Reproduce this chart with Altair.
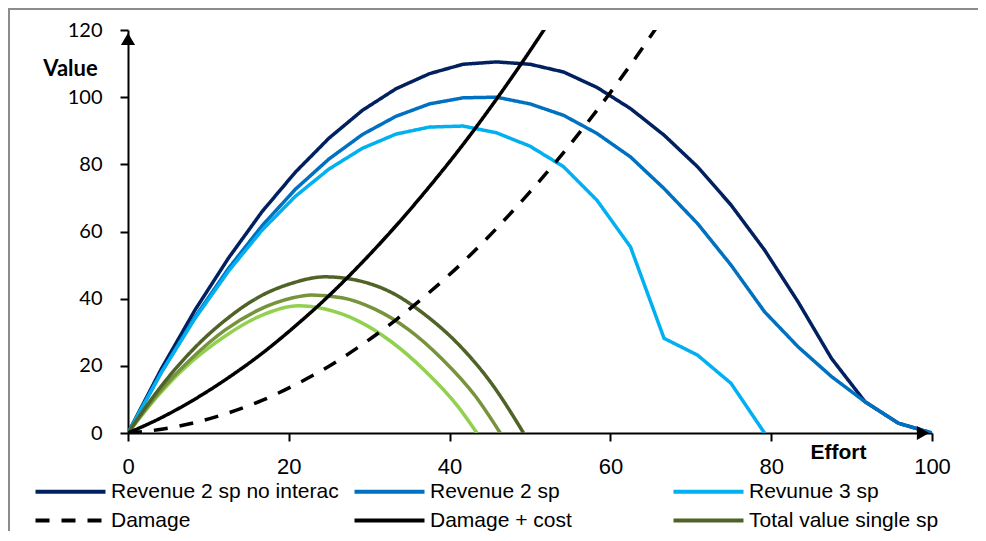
import altair as alt
import pandas as pd

# ---- data ----
effort_grid = [0, 4.17, 8.33, 12.5, 16.67, 20.83, 25, 29.17, 33.33, 37.5, 41.67, 45.83,
               50, 54.17, 58.33, 62.5, 66.67, 70.83, 75, 79.17, 83.33, 87.5, 91.67, 95.83, 100]

rev_no_interac = [0, 19.2, 36.6, 52.1, 65.9, 77.7, 87.8, 96.1, 102.5, 107.0, 109.8, 110.5,
                  109.8, 107.5, 102.9, 96.6, 88.7, 79.3, 67.9, 54.5, 39.1, 22.2, 9.3, 2.9, 0]
rev_2sp = [0, 18.2, 34.5, 49.0, 61.7, 72.6, 81.6, 88.9, 94.3, 98.0, 99.8, 100.0,
           98.0, 94.6, 89.2, 82.2, 72.8, 62.4, 50.0, 36.1, 25.7, 16.8, 9.3, 2.9, 0]
rev_3sp = [0, 18.1, 34.1, 48.2, 60.4, 70.5, 78.6, 84.8, 89.0, 91.1, 91.4, 89.4,
           85.4, 79.3, 69.3, 55.4, 28.2, 23.2, 14.8, 0]
damage = [0, 1.1, 3.1, 6.0, 9.7, 14.4, 19.9, 26.4, 33.7, 41.9, 50.9, 60.9, 71.8,
          83.5, 96.1, 109.6, 124.0]
damage_cost = [0, 4.6, 10.1, 16.5, 23.7, 31.9, 40.9, 50.9, 61.7, 73.4, 85.9, 99.4,
               113.8, 129.0]

g1_effort = [0, 3.77, 7.9, 12.1, 16.2, 20.4, 24.5, 28.6, 32.8, 36.9, 41.1, 45.2, 49.2]
g1_value = [0, 12.8, 24.4, 33.6, 40.4, 44.6, 46.5, 45.4, 41.8, 35.3, 26.4, 14.8, 0]
g2_effort = [0, 3.77, 7.9, 12.1, 16.2, 20.4, 22.8, 26.6, 30.7, 34.9, 39.0, 43.2, 46.3]
g2_value = [0, 11.8, 22.2, 30.7, 36.6, 40.2, 41.1, 40.3, 36.9, 30.8, 22.2, 11.0, 0]
g3_effort = [0, 3.77, 7.9, 12.1, 16.2, 21.2, 24.5, 28.6, 32.8, 36.9, 41.1, 43.4]
g3_value = [0, 11.2, 21.2, 28.9, 34.6, 37.9, 36.9, 33.4, 27.1, 18.6, 7.7, 0]

series_names = ["Revenue 2 sp no interac", "Revenue 2 sp", "Revunue 3 sp",
                "Damage", "Damage + cost", "Total value single sp"]
series_colors = ["#002060", "#0070C0", "#00B0F0", "#000000", "#000000", "#4F6228"]
series_dashes = [[1, 0], [1, 0], [1, 0], [14, 12], [1, 0], [1, 0]]

x_ticks = [0, 20, 40, 60, 80, 100]
y_ticks = [0, 20, 40, 60, 80, 100, 120]

# ---- build long tables ----
def long(name, xs, ys):
    return [{"series": name, "effort": a, "value": b, "i": i}
            for i, (a, b) in enumerate(zip(xs, ys))]

df_poly = pd.DataFrame(long(series_names[0], effort_grid, rev_no_interac)
                       + long(series_names[1], effort_grid, rev_2sp)
                       + long(series_names[2], effort_grid, rev_3sp))
df_smooth = pd.DataFrame(long(series_names[5], g1_effort, g1_value)
                         + long(series_names[3], effort_grid, damage)
                         + long(series_names[4], effort_grid, damage_cost))
df_g2 = pd.DataFrame(long("g2", g2_effort, g2_value))
df_g3 = pd.DataFrame(long("g3", g3_effort, g3_value))

xscale = alt.Scale(domain=[0, 100], nice=False)
yscale = alt.Scale(domain=[0, 120], nice=False)

x_enc = alt.X("effort:Q", scale=xscale,
              axis=alt.Axis(values=x_ticks, labelFont="Liberation Sans", labelFontSize=22,
                            labelPadding=15, labelFlush=False,
                            title="Effort", titleFont="Liberation Sans", titleFontSize=21,
                            titleFontWeight="bold", titleX=710, titleY=19,
                            titleAlign="center", titleBaseline="middle"))
y_enc = alt.Y("value:Q", scale=yscale,
              axis=alt.Axis(values=y_ticks, labelFont="Lato", labelFontSize=20,
                            labelPadding=18, labelFlush=False,
                            title="Value", titleFont="Lato", titleFontSize=22,
                            titleFontWeight="bold", titleAngle=0, titleX=-58, titleY=38,
                            titleAlign="center", titleBaseline="middle"))

legend = alt.Legend(orient="none", legendX=-68, legendY=451, direction="horizontal",
                    columns=3, title=None, symbolType="M-5,0L5,0", symbolSize=196,
                    symbolStrokeWidth=4, labelFont="Liberation Sans", labelFontSize=21,
                    labelColor="black", labelOffset=30, columnPadding=7, rowPadding=7,
                    gridAlign="all", labelLimit=400, padding=0)

color_enc = alt.Color("series:N", scale=alt.Scale(domain=series_names, range=series_colors),
                      legend=legend)
dash_enc = alt.StrokeDash("series:N", scale=alt.Scale(domain=series_names, range=series_dashes),
                          legend=legend)

g3_line = alt.Chart(df_g3).mark_line(strokeWidth=3.5, clip=True, interpolate="monotone",
                                     color="#92D050").encode(x=x_enc, y=y_enc, order="i:Q")
g2_line = alt.Chart(df_g2).mark_line(strokeWidth=3.5, clip=True, interpolate="monotone",
                                     color="#77933C").encode(x=x_enc, y=y_enc, order="i:Q")

poly_lines = alt.Chart(df_poly).mark_line(strokeWidth=3.5, clip=True).encode(
    x=x_enc, y=y_enc, order="i:Q", color=color_enc, strokeDash=dash_enc)
smooth_lines = alt.Chart(df_smooth).mark_line(strokeWidth=3.5, clip=True,
                                              interpolate="monotone").encode(
    x=x_enc, y=y_enc, order="i:Q", color=color_enc, strokeDash=dash_enc)

one = pd.DataFrame({"d": [0]})
arrow_up = alt.Chart(one).mark_point(shape="triangle-up", filled=True, color="black",
                                     opacity=1, size=200).encode(x=alt.value(0), y=alt.value(9))
arrow_right = alt.Chart(one).mark_point(shape="triangle-right", filled=True, color="black",
                                        opacity=1, size=200).encode(x=alt.value(795), y=alt.value(403))
border_top = alt.Chart(one).mark_rule(color="#8c8c8c", strokeWidth=2).encode(
    x=alt.value(-120), x2=alt.value(870), y=alt.value(-21))
border_left = alt.Chart(one).mark_rule(color="#8c8c8c", strokeWidth=2).encode(
    x=alt.value(-119), y=alt.value(-22), y2=alt.value(520))

chart = alt.layer(poly_lines, g3_line, g2_line, smooth_lines,
                  arrow_up, arrow_right, border_top, border_left).properties(
    width=804, height=403,
    autosize=alt.AutoSizeParams(type="none"),
    padding={"left": 120, "top": 22, "right": 46, "bottom": 98},
    background="white",
).configure_view(stroke=None).configure_axis(
    grid=False, domainColor="black", domainWidth=2, tickColor="black", tickWidth=2,
    tickSize=8, labelColor="black", titleColor="black"
)

chart.save("out.html", embed_options={"renderer": "svg", "actions": False})
